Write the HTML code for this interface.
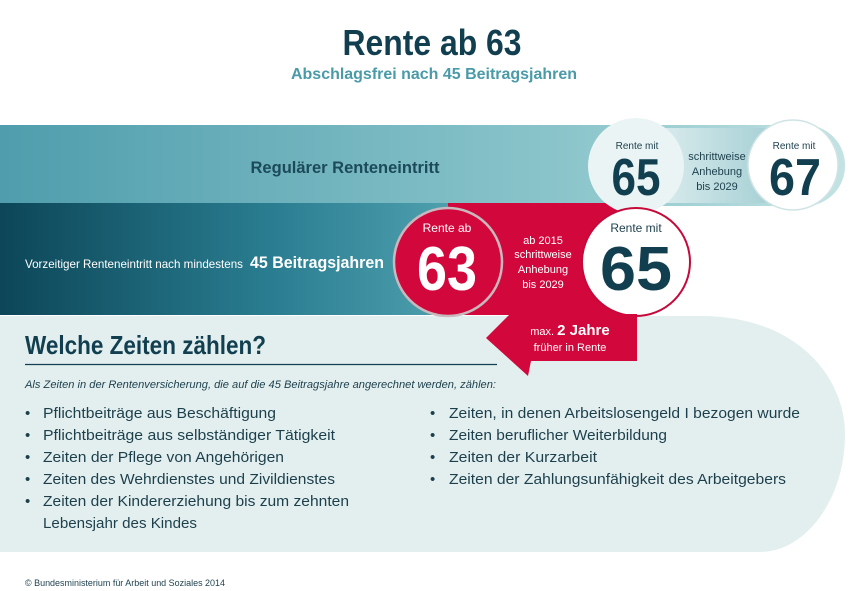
<!DOCTYPE html>
<html><head><meta charset="utf-8"><style>
html,body{margin:0;padding:0;background:#fff;width:858px;height:591px;overflow:hidden}
svg{display:block}
text{font-family:"Liberation Sans Narrow","Liberation Sans",sans-serif}
</style></head><body>
<svg width="858" height="591" viewBox="0 0 858 591" xmlns="http://www.w3.org/2000/svg">
<defs>
<linearGradient id="top" x1="0" x2="1"><stop offset="0" stop-color="#4f9dad"/><stop offset="0.7" stop-color="#8ec7cc"/><stop offset="1" stop-color="#c4e2e3"/></linearGradient>
<linearGradient id="bot" x1="0" x2="1"><stop offset="0" stop-color="#0c4658"/><stop offset="0.6" stop-color="#2a7d90"/><stop offset="1" stop-color="#4ea0ae"/></linearGradient>
<linearGradient id="gap" x1="0" x2="1"><stop offset="0" stop-color="#e4f1f2"/><stop offset="1" stop-color="#9ccbd0"/></linearGradient>
</defs>
<text x="432" y="55" text-anchor="middle" font-size="36" font-weight="bold" fill="#123f50" textLength="179" lengthAdjust="spacingAndGlyphs">Rente ab 63</text>
<text x="434" y="79" text-anchor="middle" font-size="16" font-weight="bold" fill="#4a9aa8" textLength="286" lengthAdjust="spacingAndGlyphs">Abschlagsfrei nach 45 Beitragsjahren</text>

<path d="M0,316 H700 C800,316 845,380 845,434 C845,500 805,552 760,552 H0 Z" fill="#e3efef"/>
<path d="M0,125 H805 A40,40 0 0 1 845,165 A40,40 0 0 1 805,206 H0 Z" fill="url(#top)"/>
<rect x="636" y="128" width="157" height="75" fill="url(#gap)"/>
<rect x="0" y="203" width="450" height="112" fill="url(#bot)"/>
<rect x="448" y="203" width="188" height="112" fill="#d2083c"/>

<circle cx="636" cy="166" r="48" fill="#eaf4f4"/>
<circle cx="793" cy="165" r="45" fill="#fff" stroke="#cfe3e5" stroke-width="1.5"/>
<text x="345" y="173" text-anchor="middle" font-size="17" font-weight="bold" fill="#1c4a5a" textLength="189" lengthAdjust="spacingAndGlyphs">Regulärer Renteneintritt</text>
<text x="637" y="149" text-anchor="middle" font-size="10" fill="#1c3f4c">Rente mit</text>
<text x="636" y="195" text-anchor="middle" font-size="52" font-weight="bold" fill="#123f50" textLength="49" lengthAdjust="spacingAndGlyphs">65</text>
<text x="717" y="160" text-anchor="middle" font-size="11" fill="#1c3f4c">schrittweise</text>
<text x="717" y="175" text-anchor="middle" font-size="11" fill="#1c3f4c">Anhebung</text>
<text x="717" y="190" text-anchor="middle" font-size="11" fill="#1c3f4c">bis 2029</text>
<text x="794" y="149" text-anchor="middle" font-size="10" fill="#1c3f4c">Rente mit</text>
<text x="795" y="195" text-anchor="middle" font-size="52" font-weight="bold" fill="#123f50" textLength="52" lengthAdjust="spacingAndGlyphs">67</text>

<circle cx="448" cy="262" r="54" fill="#d2083c" stroke="#c9b8bd" stroke-width="2.5"/>
<circle cx="636" cy="262" r="54" fill="#fff" stroke="#c5093a" stroke-width="2"/>
<text x="25" y="268" font-size="12" fill="#fff" textLength="218" lengthAdjust="spacingAndGlyphs">Vorzeitiger Renteneintritt nach mindestens</text>
<text x="250" y="268" font-size="17" font-weight="bold" fill="#fff" textLength="134" lengthAdjust="spacingAndGlyphs">45 Beitragsjahren</text>
<text x="447" y="232" text-anchor="middle" font-size="12" fill="#fff">Rente ab</text>
<text x="447" y="290" text-anchor="middle" font-size="62" font-weight="bold" fill="#fff" textLength="60" lengthAdjust="spacingAndGlyphs">63</text>
<text x="543" y="244" text-anchor="middle" font-size="11" fill="#fff">ab 2015</text>
<text x="543" y="258" text-anchor="middle" font-size="11" fill="#fff">schrittweise</text>
<text x="543" y="273" text-anchor="middle" font-size="11" fill="#fff">Anhebung</text>
<text x="543" y="288" text-anchor="middle" font-size="11" fill="#fff">bis 2029</text>
<text x="636" y="232" text-anchor="middle" font-size="12" fill="#1c3f4c">Rente mit</text>
<text x="636" y="290" text-anchor="middle" font-size="62" font-weight="bold" fill="#123f50" textLength="72" lengthAdjust="spacingAndGlyphs">65</text>

<polygon points="486,338 510,314 637,314 637,361 531,361 528,376" fill="#d2083c"/>
<text x="570" y="335" text-anchor="middle" fill="#fff"><tspan font-size="11">max. </tspan><tspan font-size="15" font-weight="bold">2 Jahre</tspan></text>
<text x="570" y="351" text-anchor="middle" font-size="11" fill="#fff">früher in Rente</text>

<text x="25" y="354" font-size="26" font-weight="bold" fill="#123f50" textLength="241" lengthAdjust="spacingAndGlyphs">Welche Zeiten zählen?</text>
<line x1="25" y1="364.5" x2="497" y2="364.5" stroke="#123f50" stroke-width="1.2"/>
<text x="25" y="388" font-size="11" font-style="italic" fill="#1c3f4c" textLength="471" lengthAdjust="spacingAndGlyphs">Als Zeiten in der Rentenversicherung, die auf die 45 Beitragsjahre angerechnet werden, zählen:</text>

<g font-size="15" fill="#1c3f4c">
<text x="25" y="418">•</text><text x="43" y="418" textLength="233" lengthAdjust="spacingAndGlyphs">Pflichtbeiträge aus Beschäftigung</text>
<text x="25" y="440">•</text><text x="43" y="440" textLength="292" lengthAdjust="spacingAndGlyphs">Pflichtbeiträge aus selbständiger Tätigkeit</text>
<text x="25" y="462">•</text><text x="43" y="462" textLength="241" lengthAdjust="spacingAndGlyphs">Zeiten der Pflege von Angehörigen</text>
<text x="25" y="484">•</text><text x="43" y="484" textLength="292" lengthAdjust="spacingAndGlyphs">Zeiten des Wehrdienstes und Zivildienstes</text>
<text x="25" y="506">•</text><text x="43" y="506" textLength="306" lengthAdjust="spacingAndGlyphs">Zeiten der Kindererziehung bis zum zehnten</text>
<text x="43" y="528" textLength="154" lengthAdjust="spacingAndGlyphs">Lebensjahr des Kindes</text>
<text x="430" y="418">•</text><text x="449" y="418" textLength="351" lengthAdjust="spacingAndGlyphs">Zeiten, in denen Arbeitslosengeld I bezogen wurde</text>
<text x="430" y="440">•</text><text x="449" y="440" textLength="218" lengthAdjust="spacingAndGlyphs">Zeiten beruflicher Weiterbildung</text>
<text x="430" y="462">•</text><text x="449" y="462" textLength="148" lengthAdjust="spacingAndGlyphs">Zeiten der Kurzarbeit</text>
<text x="430" y="484">•</text><text x="449" y="484" textLength="337" lengthAdjust="spacingAndGlyphs">Zeiten der Zahlungsunfähigkeit des Arbeitgebers</text>
</g>
<text x="25" y="586" font-size="9" fill="#1c3f4c" textLength="200" lengthAdjust="spacingAndGlyphs">© Bundesministerium für Arbeit und Soziales 2014</text>
</svg>
</body></html>
